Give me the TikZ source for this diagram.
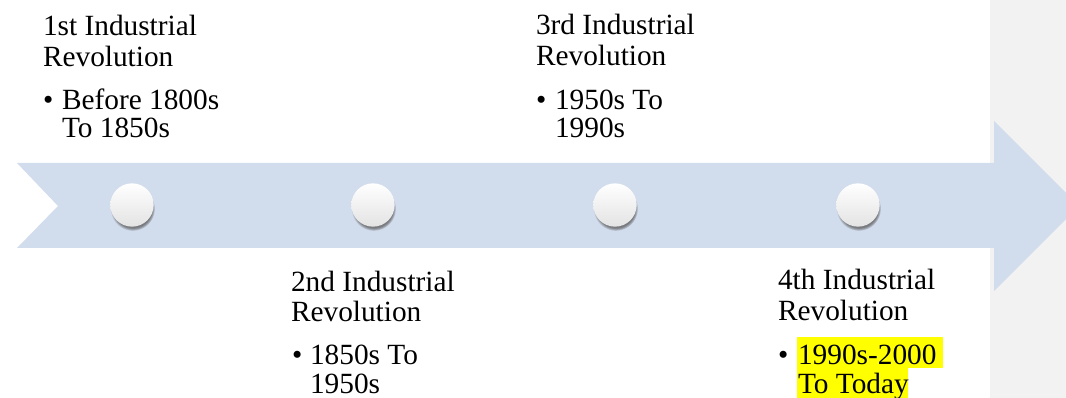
\documentclass[tikz,border=0pt]{standalone}
\usepackage{fontspec}
\setmainfont{Liberation Serif}
\usetikzlibrary{shadows}
\definecolor{bandblue}{RGB}{209,220,237}
\definecolor{panelgray}{RGB}{242,242,242}
\definecolor{hilite}{RGB}{255,255,0}

\begin{document}
\begin{tikzpicture}[x=0.75pt,y=-0.75pt,
  every node/.style={inner sep=0pt, outer sep=0pt, anchor=base west, font=\fontsize{22}{26}\selectfont},
  dot/.style={circle, minimum size=32.5pt, anchor=center, top color=white, middle color=white, bottom color=black!11,
    circular drop shadow={shadow xshift=0.5pt, shadow yshift=-2.6pt, shadow scale=1.03, opacity=0.75, fill=black!65}}]
\useasboundingbox (0,0) rectangle (1066,398);
\clip (0,0) rectangle (1066,398);
\fill[panelgray] (990,0) rectangle (1066,398);
\fill[bandblue] (17,163) -- (994,163) -- (994,121) -- (1079,206) -- (994,291) -- (994,248) -- (17,248) -- (58,206) -- cycle;

\node[dot] (c1) at (132,205) {};
\node[dot] (c2) at (373,205) {};
\node[dot] (c3) at (615,205) {};
\node[dot] (c4) at (858,205) {};

\fill[hilite] (797,337) rectangle (943,368);
\fill[hilite] (797,368) rectangle (908,398);

\node (t1a) at (43,36) {1st Industrial};
\node (t1b) at (43,67) {Revolution};
\node (b1) at (43,110) {•};
\node (i1a) at (62,110) {Before 1800s};
\node (i1b) at (62,138) {To 1850s};

\node (t2a) at (291,292) {2nd Industrial};
\node (t2b) at (291,322) {Revolution};
\node (b2) at (292,365) {•};
\node (i2a) at (310,365) {1850s To};
\node (i2b) at (310,393) {1950s};

\node (t3a) at (536,35) {3rd Industrial};
\node (t3b) at (536,66) {Revolution};
\node (b3) at (536,110) {•};
\node (i3a) at (555,110) {1950s To};
\node (i3b) at (555,138) {1990s};

\node (t4a) at (778,290) {4th Industrial};
\node (t4b) at (778,321) {Revolution};
\node (b4) at (778,365) {•};
\node (i4a) at (798,365) {1990s-2000};
\node (i4b) at (798,393) {To Today};
\end{tikzpicture}
\end{document}
